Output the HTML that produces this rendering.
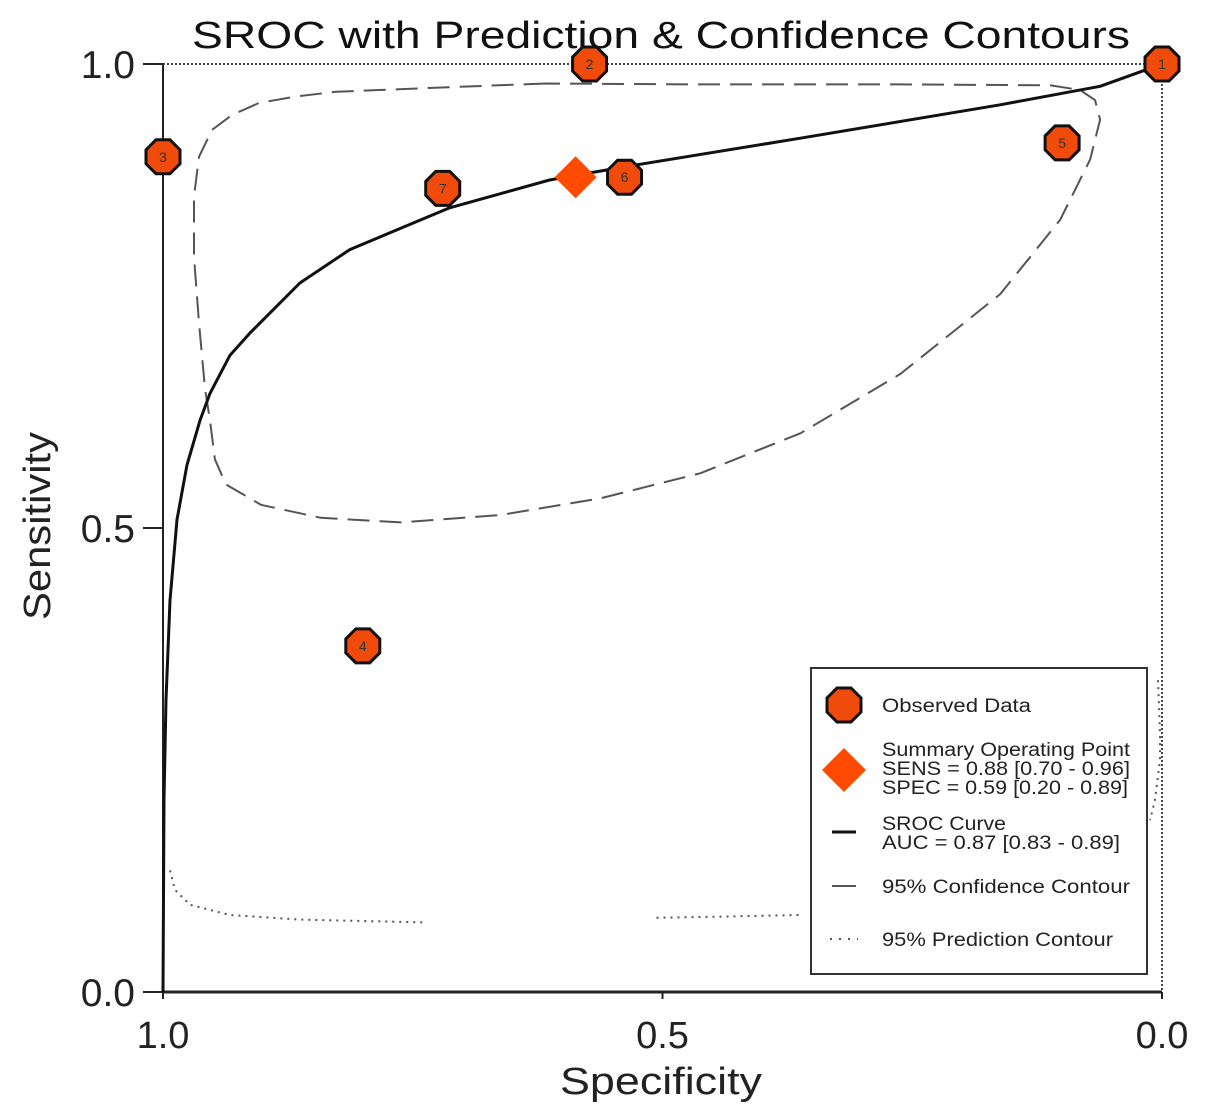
<!DOCTYPE html>
<html><head><meta charset="utf-8"><style>
body{margin:0;background:#fff;}
svg text{font-family:"Liberation Sans",Arial,sans-serif;}
</style></head><body>
<svg id="chart" width="1205" height="1114" viewBox="0 0 1205 1114">
<text x="192" y="48" font-size="38" textLength="938" lengthAdjust="spacingAndGlyphs" fill="#111">SROC with Prediction &amp; Confidence Contours</text>
<g id="axes"></g>
<g id="marks"></g>
<g id="legend">
<rect x="811" y="668" width="336" height="306" fill="#fff" stroke="#333" stroke-width="2"/>
<polygon points="837,688 851,688 861,698 861,712 851,722 837,722 827,712 827,698" fill="#f04b0a" stroke="#111" stroke-width="3"/>
<text x="882" y="712" font-size="19" textLength="149" lengthAdjust="spacingAndGlyphs" fill="#222">Observed Data</text>
<polygon points="844,748 866,770 844,792 822,770" fill="#ff4a00"/>
<text font-size="19" fill="#222"><tspan x="882" y="756" textLength="248" lengthAdjust="spacingAndGlyphs">Summary Operating Point</tspan><tspan x="882" y="775" textLength="248" lengthAdjust="spacingAndGlyphs">SENS = 0.88 [0.70 - 0.96]</tspan><tspan x="882" y="794" textLength="246" lengthAdjust="spacingAndGlyphs">SPEC = 0.59 [0.20 - 0.89]</tspan></text>
<line x1="832" y1="832" x2="856" y2="832" stroke="#111" stroke-width="3"/>
<text font-size="19" fill="#222"><tspan x="882" y="830" textLength="124" lengthAdjust="spacingAndGlyphs">SROC Curve</tspan><tspan x="882" y="849" textLength="238" lengthAdjust="spacingAndGlyphs">AUC = 0.87 [0.83 - 0.89]</tspan></text>
<line x1="832" y1="886" x2="856" y2="886" stroke="#555" stroke-width="2"/>
<text x="882" y="893" font-size="19" textLength="248" lengthAdjust="spacingAndGlyphs" fill="#222">95% Confidence Contour</text>
<line x1="830" y1="939" x2="858" y2="939" stroke="#555" stroke-width="2" stroke-dasharray="2,7"/>
<text x="882" y="946" font-size="19" textLength="231" lengthAdjust="spacingAndGlyphs" fill="#222">95% Prediction Contour</text>
</g>
<text x="560" y="1094" font-size="38" textLength="202" lengthAdjust="spacingAndGlyphs" fill="#222">Specificity</text>
<text x="0" y="0" font-size="38" text-anchor="middle" textLength="188" lengthAdjust="spacingAndGlyphs" fill="#222" transform="translate(50,526) rotate(-90)">Sensitivity</text>
</svg>
<script>
const xTicks=[1.0,0.5,0.0];
const yTicks=[0.0,0.5,1.0];
const studyIds=["1","2","3","4","5","6","7"];
const studySpec=[0.0,0.573,1.0,0.80,0.10,0.538,0.72];
const studySens=[1.0,1.0,0.90,0.373,0.915,0.878,0.866];
const summarySpec=0.587;
const summarySens=0.878;
const srocSpec=[1,0.999,0.997,0.993,0.986,0.976,0.963,0.953,0.933,0.913,0.863,0.813,0.713,0.613,0.539,0.362,0.162,0.062,0];
const srocSens=[0,0.207,0.315,0.422,0.509,0.568,0.616,0.645,0.686,0.710,0.764,0.800,0.845,0.875,0.889,0.920,0.956,0.976,1.0];
const confSpec=[0.617,0.714,0.827,0.867,0.904,0.931,0.951,0.964,0.969,0.969,0.964,0.958,0.953,0.948,0.937,0.902,0.842,0.762,0.662,0.562,0.462,0.362,0.262,0.162,0.102,0.072,0.062,0.067,0.082,0.112,0.262,0.462,0.617];
const confSens=[0.979,0.975,0.970,0.965,0.958,0.945,0.929,0.900,0.857,0.792,0.721,0.650,0.616,0.574,0.547,0.525,0.511,0.506,0.514,0.532,0.559,0.602,0.666,0.752,0.832,0.897,0.940,0.961,0.972,0.977,0.978,0.978,0.979];
const predLeftSpec=[0.993,0.988,0.973,0.933,0.863,0.738];
const predLeftSens=[0.131,0.110,0.094,0.083,0.078,0.075];
const predRightSpec=[0.506,0.45,0.362];
const predRightSens=[0.080,0.081,0.083];
const predEdgeSpec=[0.004,0.002,0.002,0.007,0.012];
const predEdgeSens=[0.336,0.280,0.250,0.207,0.185];

const X0=163,X1=1162,Y0=992,Y1=64;
const sx=s=>X0+(1-s)*(X1-X0);
const sy=v=>Y0-v*(Y0-Y1);
const NS="http://www.w3.org/2000/svg";
function mk(tag,attrs,parent){const e=document.createElementNS(NS,tag);for(const k in attrs)e.setAttribute(k,attrs[k]);parent.appendChild(e);return e;}
const axes=document.getElementById('axes');
const marks=document.getElementById('marks');

let el=mk('line',{x1:X0,y1:Y1,x2:X0,y2:Y0,stroke:'#222','stroke-width':2},axes);


el=mk('line',{x1:X0,y1:Y0,x2:X1,y2:Y0,stroke:'#222','stroke-width':3},axes);


el=mk('line',{x1:X0,y1:Y1,x2:X1,y2:Y1,stroke:'#444','stroke-width':2,'stroke-dasharray':'2,2'},axes);


el=mk('line',{x1:X1,y1:Y1,x2:X1,y2:Y0,stroke:'#444','stroke-width':2,'stroke-dasharray':'2,2'},axes);


xTicks.forEach(t=>{
  const x=sx(t);
  let tk=mk('line',{x1:x,y1:Y0,x2:x,y2:Y0+7,stroke:'#222','stroke-width':2},axes);
  
  
  let tx=mk('text',{x:x,y:Y0+56,'font-size':38,'text-anchor':'middle',fill:'#222'},axes);
  tx.textContent=t.toFixed(1);
  
  
});
yTicks.forEach(t=>{
  const y=sy(t);
  let tk=mk('line',{x1:X0-20,y1:y,x2:X0,y2:y,stroke:'#222','stroke-width':2},axes);
  
  
  let tx=mk('text',{x:X0-28,y:y+14,'font-size':39,'text-anchor':'end',fill:'#222'},axes);
  tx.textContent=t.toFixed(1);
  
  
});
function pts(a,b){return a.map((s,i)=>sx(s).toFixed(1)+','+sy(b[i]).toFixed(1)).join(' ');}
el=mk('polyline',{points:pts(confSpec,confSens),fill:'none',stroke:'#555','stroke-width':2,'stroke-dasharray':'22,10','stroke-linejoin':'round'},marks);


[[predLeftSpec,predLeftSens],[predRightSpec,predRightSens],[predEdgeSpec,predEdgeSens]].forEach(p=>{
  let e=mk('polyline',{points:pts(p[0],p[1]),fill:'none',stroke:'#555','stroke-width':2,'stroke-dasharray':'2,5'},marks);
  
  
});
el=mk('polyline',{points:pts(srocSpec,srocSens),fill:'none',stroke:'#111','stroke-width':3,'stroke-linejoin':'round'},marks);


studyIds.forEach((id,i)=>{
  const cx=sx(studySpec[i]),cy=sy(studySens[i]),r=17,a=r*0.41;
  const g=mk('g',{},marks);
  
  
  mk('polygon',{points:[[cx-a,cy-r],[cx+a,cy-r],[cx+r,cy-a],[cx+r,cy+a],[cx+a,cy+r],[cx-a,cy+r],[cx-r,cy+a],[cx-r,cy-a]].map(p=>p.join(',')).join(' '),fill:'#f04b0a',stroke:'#111','stroke-width':3},g);
  const t=mk('text',{x:cx,y:cy+5,'font-size':14,'text-anchor':'middle',fill:'#333'},g);
  t.textContent=id;
});
{
  const cx=sx(summarySpec),cy=sy(summarySens),d=21;
  el=mk('polygon',{points:`${cx},${cy-d} ${cx+d},${cy} ${cx},${cy+d} ${cx-d},${cy}`,fill:'#ff4a00'},marks);
  
  
}
</script>
</body></html>
